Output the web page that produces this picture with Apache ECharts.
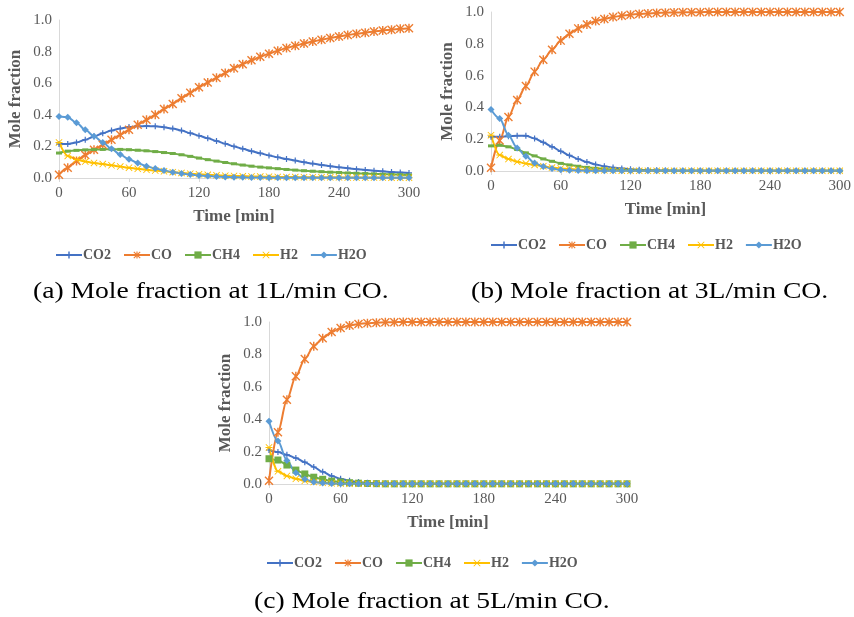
<!DOCTYPE html>
<html>
<head>
<meta charset="utf-8">
<script src="https://cdn.jsdelivr.net/npm/echarts@6/dist/echarts.min.js"></script>
<style>
html,body{margin:0;padding:0;background:#fff;}
#chart{width:854px;height:617px;}
</style>
</head>
<body>
<div id="chart"></div>
<script>
const times = [0, 7.5, 15, 22.5, 30, 37.5, 45, 52.5, 60, 67.5, 75, 82.5, 90, 97.5, 105, 112.5, 120, 127.5, 135, 142.5, 150, 157.5, 165, 172.5, 180, 187.5, 195, 202.5, 210, 217.5, 225, 232.5, 240, 247.5, 255, 262.5, 270, 277.5, 285, 292.5, 300];
const xTicks = [0, 60, 120, 180, 240, 300];
const yTicks = [0.0, 0.2, 0.4, 0.6, 0.8, 1.0];
const speciesNames = ['CO2', 'CO', 'CH4', 'H2', 'H2O'];
const captions = ['(a) Mole fraction at 1L/min CO.', '(b) Mole fraction at 3L/min CO.', '(c) Mole fraction at 5L/min CO.'];

// Panel (a): 1 L/min CO
const co2A = [0.215, 0.215, 0.225, 0.242, 0.263, 0.284, 0.300, 0.313, 0.322, 0.327, 0.329, 0.327, 0.321, 0.313, 0.300, 0.284, 0.268, 0.251, 0.234, 0.217, 0.200, 0.185, 0.170, 0.156, 0.143, 0.131, 0.120, 0.110, 0.100, 0.091, 0.083, 0.075, 0.068, 0.062, 0.056, 0.051, 0.046, 0.042, 0.038, 0.035, 0.032];
const coA = [0.021, 0.065, 0.108, 0.145, 0.179, 0.210, 0.242, 0.273, 0.305, 0.337, 0.368, 0.400, 0.436, 0.469, 0.505, 0.540, 0.575, 0.605, 0.635, 0.665, 0.695, 0.720, 0.745, 0.767, 0.787, 0.806, 0.822, 0.837, 0.851, 0.864, 0.875, 0.886, 0.896, 0.905, 0.913, 0.920, 0.927, 0.933, 0.939, 0.944, 0.948];
const ch4A = [0.158, 0.170, 0.175, 0.178, 0.180, 0.181, 0.182, 0.181, 0.179, 0.176, 0.172, 0.167, 0.161, 0.155, 0.147, 0.137, 0.126, 0.116, 0.107, 0.098, 0.090, 0.082, 0.075, 0.069, 0.064, 0.059, 0.054, 0.050, 0.046, 0.043, 0.040, 0.037, 0.035, 0.032, 0.030, 0.028, 0.026, 0.024, 0.022, 0.021, 0.019];
const h2A = [0.225, 0.140, 0.117, 0.104, 0.095, 0.088, 0.080, 0.072, 0.065, 0.058, 0.052, 0.047, 0.042, 0.037, 0.032, 0.027, 0.023, 0.020, 0.017, 0.015, 0.013, 0.011, 0.010, 0.009, 0.008, 0.007, 0.006, 0.006, 0.005, 0.005, 0.004, 0.004, 0.004, 0.003, 0.003, 0.003, 0.003, 0.003, 0.002, 0.002, 0.002];
const h2oA = [0.389, 0.385, 0.350, 0.305, 0.265, 0.225, 0.185, 0.148, 0.118, 0.095, 0.075, 0.060, 0.047, 0.037, 0.029, 0.022, 0.016, 0.012, 0.009, 0.007, 0.005, 0.004, 0.003, 0.003, 0.002, 0.002, 0.002, 0.002, 0.001, 0.001, 0.001, 0.001, 0.001, 0.001, 0.001, 0.001, 0.001, 0.001, 0.001, 0.001, 0.001];

// Panel (b): 3 L/min CO
const co2B = [0.215, 0.215, 0.218, 0.222, 0.221, 0.205, 0.180, 0.152, 0.124, 0.098, 0.075, 0.056, 0.041, 0.030, 0.022, 0.016, 0.011, 0.008, 0.006, 0.004, 0.003, 0.002, 0.002, 0.001, 0.001, 0.001, 0.001, 0.001, 0.001, 0.001, 0.001, 0.001, 0.001, 0.001, 0.001, 0.001, 0.001, 0.001, 0.001, 0.001, 0.001];
const coB = [0.020, 0.192, 0.340, 0.446, 0.535, 0.625, 0.700, 0.762, 0.820, 0.863, 0.897, 0.922, 0.943, 0.956, 0.968, 0.977, 0.983, 0.988, 0.991, 0.994, 0.996, 0.997, 0.998, 0.999, 0.999, 1.000, 1.000, 1.000, 1.000, 1.000, 1.000, 1.000, 1.000, 1.000, 1.000, 1.000, 1.000, 1.000, 1.000, 1.000, 1.000];
const ch4B = [0.158, 0.162, 0.152, 0.135, 0.114, 0.095, 0.076, 0.061, 0.048, 0.038, 0.030, 0.023, 0.017, 0.013, 0.010, 0.007, 0.005, 0.004, 0.003, 0.002, 0.002, 0.001, 0.001, 0.001, 0.001, 0.001, 0.001, 0.001, 0.001, 0.001, 0.001, 0.001, 0.001, 0.001, 0.001, 0.001, 0.001, 0.001, 0.001, 0.001, 0.001];
const h2B = [0.225, 0.100, 0.075, 0.058, 0.047, 0.038, 0.030, 0.022, 0.016, 0.012, 0.009, 0.007, 0.005, 0.004, 0.003, 0.002, 0.002, 0.001, 0.001, 0.001, 0.001, 0.001, 0.001, 0.001, 0.001, 0.001, 0.001, 0.001, 0.001, 0.001, 0.001, 0.001, 0.001, 0.001, 0.001, 0.001, 0.001, 0.001, 0.001, 0.001, 0.001];
const h2oB = [0.387, 0.330, 0.225, 0.145, 0.093, 0.050, 0.028, 0.015, 0.008, 0.005, 0.003, 0.002, 0.001, 0.001, 0.001, 0.001, 0.001, 0.001, 0.001, 0.001, 0.001, 0.001, 0.001, 0.001, 0.001, 0.001, 0.001, 0.001, 0.001, 0.001, 0.001, 0.001, 0.001, 0.001, 0.001, 0.001, 0.001, 0.001, 0.001, 0.001, 0.001];

// Panel (c): 5 L/min CO
const co2C = [0.210, 0.197, 0.180, 0.160, 0.135, 0.105, 0.075, 0.050, 0.032, 0.020, 0.012, 0.007, 0.004, 0.003, 0.002, 0.001, 0.001, 0.001, 0.001, 0.001, 0.001, 0.001, 0.001, 0.001, 0.001, 0.001, 0.001, 0.001, 0.001, 0.001, 0.001, 0.001, 0.001, 0.001, 0.001, 0.001, 0.001, 0.001, 0.001, 0.001, 0.001];
const coC = [0.020, 0.320, 0.520, 0.665, 0.772, 0.850, 0.900, 0.938, 0.963, 0.979, 0.988, 0.993, 0.996, 0.998, 0.999, 1.000, 1.000, 1.000, 1.000, 1.000, 1.000, 1.000, 1.000, 1.000, 1.000, 1.000, 1.000, 1.000, 1.000, 1.000, 1.000, 1.000, 1.000, 1.000, 1.000, 1.000, 1.000, 1.000, 1.000, 1.000, 1.000];
const ch4C = [0.156, 0.148, 0.117, 0.086, 0.062, 0.042, 0.029, 0.018, 0.012, 0.008, 0.005, 0.003, 0.002, 0.001, 0.001, 0.001, 0.001, 0.001, 0.001, 0.001, 0.001, 0.001, 0.001, 0.001, 0.001, 0.001, 0.001, 0.001, 0.001, 0.001, 0.001, 0.001, 0.001, 0.001, 0.001, 0.001, 0.001, 0.001, 0.001, 0.001, 0.001];
const h2C = [0.226, 0.078, 0.050, 0.032, 0.020, 0.012, 0.007, 0.004, 0.003, 0.002, 0.001, 0.001, 0.001, 0.001, 0.001, 0.001, 0.001, 0.001, 0.001, 0.001, 0.001, 0.001, 0.001, 0.001, 0.001, 0.001, 0.001, 0.001, 0.001, 0.001, 0.001, 0.001, 0.001, 0.001, 0.001, 0.001, 0.001, 0.001, 0.001, 0.001, 0.001];
const h2oC = [0.387, 0.265, 0.145, 0.070, 0.030, 0.012, 0.006, 0.003, 0.002, 0.001, 0.001, 0.001, 0.001, 0.001, 0.001, 0.001, 0.001, 0.001, 0.001, 0.001, 0.001, 0.001, 0.001, 0.001, 0.001, 0.001, 0.001, 0.001, 0.001, 0.001, 0.001, 0.001, 0.001, 0.001, 0.001, 0.001, 0.001, 0.001, 0.001, 0.001, 0.001];

const panels = [
  { key: 'a', values: [co2A, coA, ch4A, h2A, h2oA] },
  { key: 'b', values: [co2B, coB, ch4B, h2B, h2oB] },
  { key: 'c', values: [co2C, coC, ch4C, h2C, h2oC] }
];

const colors = ['#4472C4', '#ED7D31', '#70AD47', '#FFC000', '#5B9BD5'];
const PLUS = 'path://M0,4h10v2h-10z M4,0h2v10h-2z';
const STAR = 'path://M4.2,0h1.6v10h-1.6z M0,1.1l1.1,-1.1l8.9,8.9l-1.1,1.1z M8.9,0l1.1,1.1l-8.9,8.9l-1.1,-1.1z';
const XMARK = 'path://M0,0.9l0.9,-0.9l9.1,9.1l-0.9,0.9z M9.1,0l0.9,0.9l-9.1,9.1l-0.9,-0.9z M0,4.3h10v1.4h-10z';
function symbolFor(i, panelKey) {
  switch (i) {
    case 0: return { symbol: PLUS, symbolSize: 6 };
    case 1: return { symbol: STAR, symbolSize: 9 };
    case 2: return panelKey === 'c' ? { symbol: 'rect', symbolSize: 7 } : { symbol: 'rect', symbolSize: [6, 3] };
    case 3: return { symbol: XMARK, symbolSize: 7 };
    default: return { symbol: 'diamond', symbolSize: 7 };
  }
}

const grids = [
  { left: 59, top: 20, width: 350, height: 158 },
  { left: 491, top: 12, width: 352, height: 159 },
  { left: 269, top: 322, width: 358, height: 162 }
];
const serif = 'Liberation Serif';
const tickColor = '#595959';

const xAxes = grids.map((g, i) => ({
  type: 'value', gridIndex: i, min: 0, max: 300, interval: 60,
  name: 'Time [min]', nameLocation: 'middle', nameGap: 30,
  nameTextStyle: { fontFamily: serif, fontWeight: 'bold', fontSize: 17, color: tickColor },
  axisLine: { show: true, lineStyle: { color: '#d9d9d9', width: 1 } },
  axisTick: { show: true, length: 4, lineStyle: { color: '#d9d9d9' } },
  axisLabel: { fontFamily: serif, fontSize: 15, color: tickColor, margin: 8,
    formatter: v => (xTicks.indexOf(v) >= 0 ? String(v) : '') },
  splitLine: { show: false }
}));
const yAxes = grids.map((g, i) => ({
  type: 'value', gridIndex: i, min: 0, max: 1, interval: 0.2,
  name: 'Mole fraction', nameLocation: 'middle', nameGap: 35,
  nameTextStyle: { fontFamily: serif, fontWeight: 'bold', fontSize: 17, color: tickColor },
  axisLine: { show: true, lineStyle: { color: '#d9d9d9', width: 1 } },
  axisTick: { show: false },
  axisLabel: { fontFamily: serif, fontSize: 15, color: tickColor, margin: 7,
    formatter: v => yTicks.some(t => Math.abs(t - v) < 1e-9) ? v.toFixed(1) : '' },
  splitLine: { show: false }
}));

const series = [];
panels.forEach((p, pi) => {
  p.values.forEach((vals, si) => {
    const sym = symbolFor(si, p.key);
    series.push({
      type: 'line',
      name: speciesNames[si] + '|' + p.key,
      xAxisIndex: pi, yAxisIndex: pi,
      data: times.map((t, k) => [t, vals[k]]),
      smooth: 0.3,
      smoothMonotone: 'x',
      symbol: sym.symbol,
      symbolSize: sym.symbolSize,
      showSymbol: true,
      lineStyle: { color: colors[si], width: 2 },
      itemStyle: { color: colors[si], borderWidth: 0 },
      emphasis: { disabled: true },
      animation: false
    });
  });
});

const legendPos = [
  { left: 55, top: 248 },
  { left: 490, top: 238 },
  { left: 266, top: 556 }
];
const legends = panels.map((p, pi) => ({
  data: speciesNames.map(n => n + '|' + p.key),
  left: legendPos[pi].left, top: legendPos[pi].top,
  orient: 'horizontal',
  itemWidth: 26, itemHeight: 9, itemGap: 12, padding: 0,
  selectedMode: false,
  formatter: name => name.split('|')[0],
  textStyle: { fontFamily: serif, fontWeight: 'bold', fontSize: 14, color: tickColor, padding: [0, 0, 0, -4] }
}));

const capPos = [
  { x: 33, y: 292 },
  { x: 471, y: 292 },
  { x: 254, y: 602 }
];
const graphics = captions.map((c, i) => ({
  type: 'text',
  x: capPos[i].x, y: capPos[i].y,
  scaleX: 1.15, scaleY: 1,
  style: { text: c, font: 'normal 24px "Liberation Serif"', fill: '#000', verticalAlign: 'middle', align: 'left' },
  silent: true
}));

const chart = echarts.init(document.getElementById('chart'), null, { renderer: 'canvas' });
chart.setOption({
  animation: false,
  backgroundColor: '#ffffff',
  grid: grids.map(g => Object.assign({ containLabel: false }, g)),
  xAxis: xAxes,
  yAxis: yAxes,
  legend: legends,
  graphic: graphics,
  series: series
});
</script>
</body>
</html>
